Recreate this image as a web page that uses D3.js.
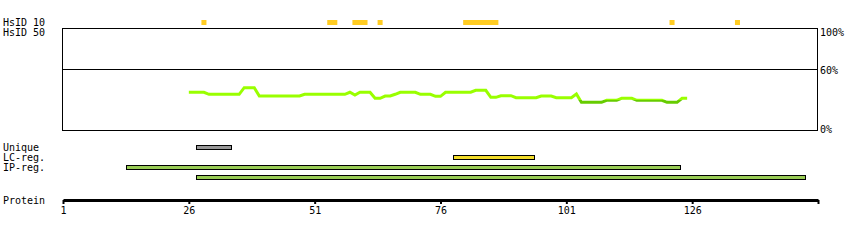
<!DOCTYPE html>
<html>
<head>
<meta charset="utf-8">
<script src="https://cdn.jsdelivr.net/npm/d3@7"></script>
<style>
  body { margin: 0; background: #fff; }
  text { font-family: "DejaVu Sans Mono", monospace; font-size: 10px; fill: #000; }
</style>
</head>
<body>
<div id="chart"></div>
<script>
// protein axis
var proteinLength = 150;
var axisTicks = [1, 26, 51, 76, 101, 126, 151];

// HsID 10 hits (residue from, to)
var hsid10 = [[29, 29], [54, 55], [59, 61], [64, 64], [81, 87], [122, 122], [135, 135]];
var hsid50 = [];

// percent axis labels
var pctTicks = [100, 60, 0];

// disorder curve, one value per residue starting at lineStart
var lineStart = 26;
var lineValues = [
  37.5, 37.5, 37.5, 37.5,
  35.5, 35.5, 35.5, 35.5, 35.5, 35.5, 35.5,
  42, 42, 42,
  33.8, 33.8, 33.8, 33.8, 33.8, 33.8, 33.8, 33.8, 33.8,
  35.5, 35.5, 35.5, 35.5, 35.5, 35.5, 35.5, 35.5, 35.5,
  37.5, 34.8, 37.5, 37.5, 37.5,
  31.6, 31.6, 33.8, 33.8, 35.5,
  37.5, 37.5, 37.5, 37.5,
  35.5, 35.5, 35.5, 33.5, 33.5,
  37.5, 37.5, 37.5, 37.5, 37.5, 37.5,
  39.4, 39.4, 39.4, 32.5, 32.5,
  34.1, 34.1, 34.1,
  32.2, 32.2, 32.2, 32.2, 32.2,
  33.8, 33.8, 33.8,
  32.2, 32.2, 32.2, 32.2, 35.8,
  27.6, 27.6, 27.6, 27.6, 27.6,
  29.6, 29.6, 29.6,
  31.6, 31.6, 31.6,
  29.6, 29.6, 29.6, 29.6, 29.6, 29.6,
  27.6, 27.6, 27.6,
  31.6, 31.6
];
var lowThreshold = 30;

// region tracks
var trackLabels = ["Unique", "LC-reg.", "IP-reg."];
var uniqueRegions = [[28, 34]];
var lcRegions = [[79, 94]];
var ipRegions = [[14, 123], [28, 148]];

var width = 850, height = 240;
var svg = d3.select("#chart").append("svg")
    .attr("width", width)
    .attr("height", height);

var x = d3.scaleLinear().domain([1, proteinLength + 1]).range([63, 818]);
var y = d3.scaleLinear().domain([0, 100]).range([130.5, 28.5]);

// left labels
svg.append("text").attr("x", 3).attr("y", 26).text("HsID 10");
svg.append("text").attr("x", 3).attr("y", 36).text("HsID 50");

// HsID blocks
svg.append("g").selectAll("rect")
    .data(hsid10)
  .enter().append("rect")
    .attr("x", function(d) { return x(d[0] - 0.5); })
    .attr("y", 20)
    .attr("width", function(d) { return x(d[1] + 0.5) - x(d[0] - 0.5); })
    .attr("height", 5)
    .style("fill", "#ffcc22");
svg.append("g").selectAll("rect")
    .data(hsid50)
  .enter().append("rect")
    .attr("x", function(d) { return x(d[0] - 0.5); })
    .attr("y", 30)
    .attr("width", function(d) { return x(d[1] + 0.5) - x(d[0] - 0.5); })
    .attr("height", 5)
    .style("fill", "#ffcc22");

// plot box
svg.append("rect")
    .attr("x", x(1) - 0.5)
    .attr("y", y(100))
    .attr("width", x(proteinLength + 1) - x(1))
    .attr("height", y(0) - y(100))
    .style("fill", "none")
    .style("stroke", "#000")
    .style("stroke-width", 1);
svg.append("line")
    .attr("x1", x(1) - 0.5).attr("x2", x(proteinLength + 1) - 0.5)
    .attr("y1", Math.round(y(60)) + 0.5).attr("y2", Math.round(y(60)) + 0.5)
    .style("stroke", "#000");

var pctY = {100: 36, 60: 74, 0: 133};
svg.selectAll(".pct")
    .data(pctTicks)
  .enter().append("text")
    .attr("class", "pct")
    .attr("x", 820)
    .attr("y", function(d) { return pctY[d]; })
    .text(function(d) { return d + "%"; });

// curve, light above threshold, dark below
var pts = lineValues.map(function(v, i) { return {pos: lineStart + i, val: v}; });
var line = d3.line()
    .x(function(d) { return x(d.pos); })
    .y(function(d) { return y(d.val); });

var defs = svg.append("defs");
defs.append("clipPath").attr("id", "clipHigh")
  .append("rect").attr("x", 0).attr("y", 0).attr("width", width).attr("height", y(lowThreshold));
defs.append("clipPath").attr("id", "clipLow")
  .append("rect").attr("x", 0).attr("y", y(lowThreshold)).attr("width", width).attr("height", height);

svg.append("path")
    .datum(pts)
    .attr("d", line)
    .attr("clip-path", "url(#clipHigh)")
    .style("fill", "none")
    .style("stroke", "#99ff00")
    .style("stroke-width", 3);
svg.append("path")
    .datum(pts)
    .attr("d", line)
    .attr("clip-path", "url(#clipLow)")
    .style("fill", "none")
    .style("stroke", "#66cc00")
    .style("stroke-width", 3);

// tracks
svg.selectAll(".tlabel")
    .data(trackLabels)
  .enter().append("text")
    .attr("class", "tlabel")
    .attr("x", 3)
    .attr("y", function(d, i) { return 151 + i * 10; })
    .text(function(d) { return d; });

function drawBars(data, top, color) {
  svg.append("g").selectAll("rect")
      .data(data)
    .enter().append("rect")
      .attr("x", function(d) { return Math.round(x(d[0] - 0.5)) + 0.5; })
      .attr("y", function(d, i) { return top + i * 10 + 0.5; })
      .attr("width", function(d) { return Math.round(x(d[1] + 0.5) - x(d[0] - 0.5)); })
      .attr("height", 4)
      .style("fill", color)
      .style("stroke", "#000")
      .style("stroke-width", 1);
}
drawBars(uniqueRegions, 145, "#999999");
drawBars(lcRegions, 155, "#f2dc2a");
drawBars(ipRegions, 165, "#99cc55");

// protein axis
svg.append("text").attr("x", 3).attr("y", 204).text("Protein");
var axis = svg.append("g")
    .attr("transform", "translate(0,200)")
    .call(d3.axisBottom(x)
      .tickValues(axisTicks)
      .tickSize(4)
      .tickSizeOuter(0)
      .tickFormat(function(d) { return d > proteinLength ? "" : d; }));
axis.attr("font-family", null).attr("font-size", null);
axis.select(".domain").style("stroke", "#000").style("stroke-width", 3);
axis.selectAll(".tick line").style("stroke", "#000").style("stroke-width", 2);
</script>
</body>
</html>
